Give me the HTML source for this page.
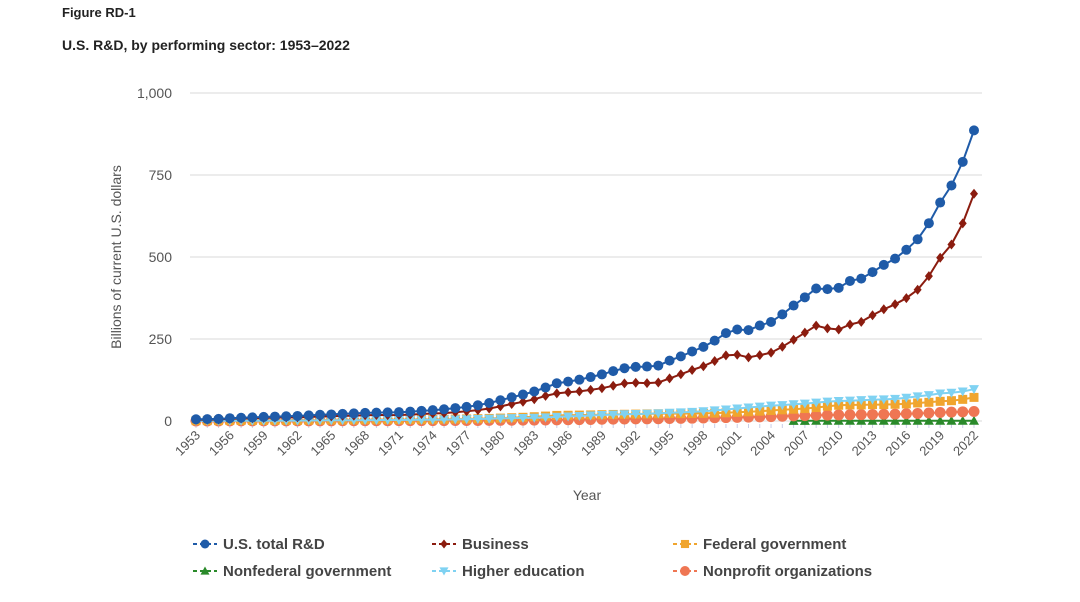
<!DOCTYPE html>
<html><head><meta charset="utf-8"><style>
body{margin:0;background:#fff;font-family:"Liberation Sans",sans-serif;}
svg{display:block}
</style></head><body>
<svg id="chart" width="1080" height="602" font-family="Liberation Sans, sans-serif">
<text x="62" y="17" font-size="13" font-weight="bold" fill="#222">Figure RD-1</text>
<text x="62" y="50" font-size="14" font-weight="bold" fill="#222">U.S. R&amp;D, by performing sector: 1953–2022</text>
<text transform="translate(121,257) rotate(-90)" text-anchor="middle" font-size="14" fill="#555">Billions of current U.S. dollars</text>
<text x="587" y="500" text-anchor="middle" font-size="14" fill="#555">Year</text>
<g id="grid"></g><g id="xt"></g><g id="series"></g><g id="legend"></g>
</svg>
<script>
const years=[];for(let y=1953;y<=2022;y++)years.push(y);
const yTicks=[0,250,500,750,1000];
const yTickLabels=["0","250","500","750","1,000"];
const total=[5.2,5.7,6.3,8.5,9.9,10.9,12.4,13.5,14.3,15.4,17.1,18.9,20.0,21.8,23.1,24.6,25.6,26.3,26.9,28.5,30.7,33.0,35.7,39.4,43.0,48.1,54.9,63.2,72.3,80.7,89.9,102,115,120,126,134,142,152,161,165,166,169,184,197,212,226,245,268,279,277,291,302,325,352,377,404,402,406,427,434,454,476,495,522,554,603,666,718,790,886];
const business=[3.6,4.1,4.6,6.6,7.7,8.4,9.6,10.5,10.9,11.5,12.6,13.5,14.2,15.5,16.4,17.4,18.3,18.1,18.3,19.6,21.2,22.9,24.2,26.9,29.8,33.3,38.2,44.5,51.8,58.6,66.3,76.6,84.2,87.8,90.2,94.9,99.9,107.4,114.7,116.8,115.4,117.4,129.8,142.4,155.4,167.1,182.8,199.9,202.0,193.9,200.7,208.3,226.2,247.7,269.3,290.7,282.4,278.9,294.1,302.3,322.5,340.7,355.8,374.7,400.1,441.7,497.9,538.1,602.5,692.7];
const federal=[1.0,1.1,1.2,1.4,1.6,1.6,1.7,1.7,1.9,2.1,2.5,2.8,3.1,3.2,3.3,3.6,3.8,4.1,4.2,4.4,4.6,4.9,5.4,5.9,6.4,7.1,7.8,8.9,10.0,11.3,13.0,15.0,17.0,17.5,18.0,18.5,19.2,20.0,20.5,21.0,21.5,22.0,23.0,22.5,22.8,23.2,24.0,25.0,26.5,28.0,30.0,32.0,34.0,36.0,38.0,41.0,45.0,48.0,49.0,49.0,50.0,50.0,51.0,52.0,55.0,57.0,60.0,62.0,66.0,72.0];
const higherEd=[0.4,0.4,0.5,0.5,0.6,0.7,0.8,1.0,1.1,1.3,1.5,1.8,2.0,2.3,2.5,2.7,2.8,3.0,3.2,3.4,3.6,3.9,4.4,4.9,5.4,6.1,6.9,7.8,8.6,9.3,10.0,11.1,12.4,13.8,15.3,16.8,18.2,19.4,20.6,21.4,22.2,23.4,25.0,26.3,27.8,29.7,32.3,35.0,38.1,41.2,44.0,47.0,48.5,51.0,53.0,56.0,59.0,61.0,62.0,63.5,65.0,66.0,67.5,71.0,75.0,79.0,84.0,86.0,90.0,97.0];
const nonprofit=[0.2,0.2,0.2,0.3,0.3,0.3,0.3,0.4,0.4,0.5,0.5,0.6,0.6,0.7,0.7,0.8,0.8,0.9,1.0,1.0,1.1,1.2,1.3,1.4,1.5,1.7,1.9,2.1,2.3,2.6,2.9,3.2,3.5,3.9,4.3,4.7,5.2,5.7,6.1,6.4,6.7,7.0,7.5,8.0,8.6,9.2,9.8,10.5,11.0,11.8,12.5,13.5,14.5,15.5,16.5,17.5,18.0,18.5,19.0,19.5,20.0,20.5,21.0,22.0,23.0,24.5,26.0,27.0,28.0,29.0];
const nonfedYears=[2006,2007,2008,2009,2010,2011,2012,2013,2014,2015,2016,2017,2018,2019,2020,2021,2022];
const nonfederal=[0.5,0.5,0.6,0.6,0.6,0.6,0.6,0.6,0.6,0.6,0.7,0.7,0.7,0.7,0.7,0.8,0.8];

const NS='http://www.w3.org/2000/svg';
const X=y=>196+(y-1953)*(974-196)/69;
const Y=v=>421-v*(421-93)/1000;
function mk(t,a,p){const e=document.createElementNS(NS,t);for(const k in a)e.setAttribute(k,a[k]);p.appendChild(e);return e;}
const grid=document.getElementById('grid');
yTicks.forEach((t,i)=>{
  const l=mk('line',{x1:190,x2:982,y1:Y(t),y2:Y(t),stroke:'#e6e6e6','stroke-width':1.5},grid);
  
  
  const tx=mk('text',{x:172,y:Y(t)+5,'text-anchor':'end','font-size':14,fill:'#555'},grid);
  tx.textContent=yTickLabels[i];
  
  
});
const xt=document.getElementById('xt');
years.forEach(y=>{
  const tk=mk('line',{x1:X(y),x2:X(y),y1:424,y2:428,stroke:'#c8cde6'},xt);
  
  
  if((y-1953)%3===0){
    const t=mk('text',{transform:`translate(${X(y)+5},${436}) rotate(-45)`,'text-anchor':'end','font-size':13,fill:'#555'},xt);
    t.textContent=y;
    
    
  }
});
function marker(shape,x,y,c,p,s){
  s=s||1;let e;
  if(shape==='circle')e=mk('circle',{cx:x,cy:y,r:5*s,fill:c},p);
  else if(shape==='diamond')e=mk('path',{d:`M${x},${y-5*s}L${x+4*s},${y}L${x},${y+5*s}L${x-4*s},${y}Z`,fill:c},p);
  else if(shape==='square')e=mk('rect',{x:x-4.5*s,y:y-4.5*s,width:9*s,height:9*s,fill:c},p);
  else if(shape==='up')e=mk('path',{d:`M${x},${y-5*s}L${x+5*s},${y+4*s}L${x-5*s},${y+4*s}Z`,fill:c},p);
  else if(shape==='down')e=mk('path',{d:`M${x-5*s},${y-4*s}L${x+5*s},${y-4*s}L${x},${y+5*s}Z`,fill:c},p);
  else if(shape==='blob'){e=mk('circle',{cx:x,cy:y,r:5.5*s,fill:c},p);}
  return e;
}
const series=[
 {name:'nonfederal-government',xs:nonfedYears,v:nonfederal,c:'#2a8a2a',shape:'up'},
 {name:'nonprofit-organizations',xs:years,v:nonprofit,c:'#ef7653',shape:'blob'},
 {name:'federal-government',xs:years,v:federal,c:'#f0a52e',shape:'square'},
 {name:'higher-education',xs:years,v:higherEd,c:'#7fd2f2',shape:'down'},
 {name:'business',xs:years,v:business,c:'#8b1c0f',shape:'diamond'},
 {name:'us-total-rd',xs:years,v:total,c:'#1f5ba8',shape:'circle'}
];
const sg=document.getElementById('series');
series.forEach(s=>{
  const g=mk('g',{},sg);
  
  
  const d=s.v.map((v,i)=>(i?'L':'M')+X(s.xs[i]).toFixed(1)+','+Y(v).toFixed(1)).join('');
  const p=mk('path',{d:d,fill:'none',stroke:s.c,'stroke-width':2},g);
  
  
  s.v.forEach((v,i)=>{
    const m=marker(s.shape,X(s.xs[i]),Y(v),s.c,g);
    
    
  });
});
const legendItems=[
 {label:'U.S. total R&D',c:'#1f5ba8',shape:'circle',x:193,y:544},
 {label:'Business',c:'#8b1c0f',shape:'diamond',x:432,y:544},
 {label:'Federal government',c:'#f0a52e',shape:'square',x:673,y:544},
 {label:'Nonfederal government',c:'#2a8a2a',shape:'up',x:193,y:571},
 {label:'Higher education',c:'#7fd2f2',shape:'down',x:432,y:571},
 {label:'Nonprofit organizations',c:'#ef7653',shape:'blob',x:673,y:571}
];
const lg=document.getElementById('legend');
legendItems.forEach(it=>{
  const g=mk('g',{},lg);
  
  
  mk('line',{x1:it.x,x2:it.x+24,y1:it.y,y2:it.y,stroke:it.c,'stroke-width':2,'stroke-dasharray':'4,3'},g);
  marker(it.shape,it.x+12,it.y,it.c,g,0.9);
  const t=mk('text',{x:it.x+30,y:it.y+5,'font-size':15,'font-weight':'bold',fill:'#444'},g);
  t.textContent=it.label;
});
</script>
</body></html>
